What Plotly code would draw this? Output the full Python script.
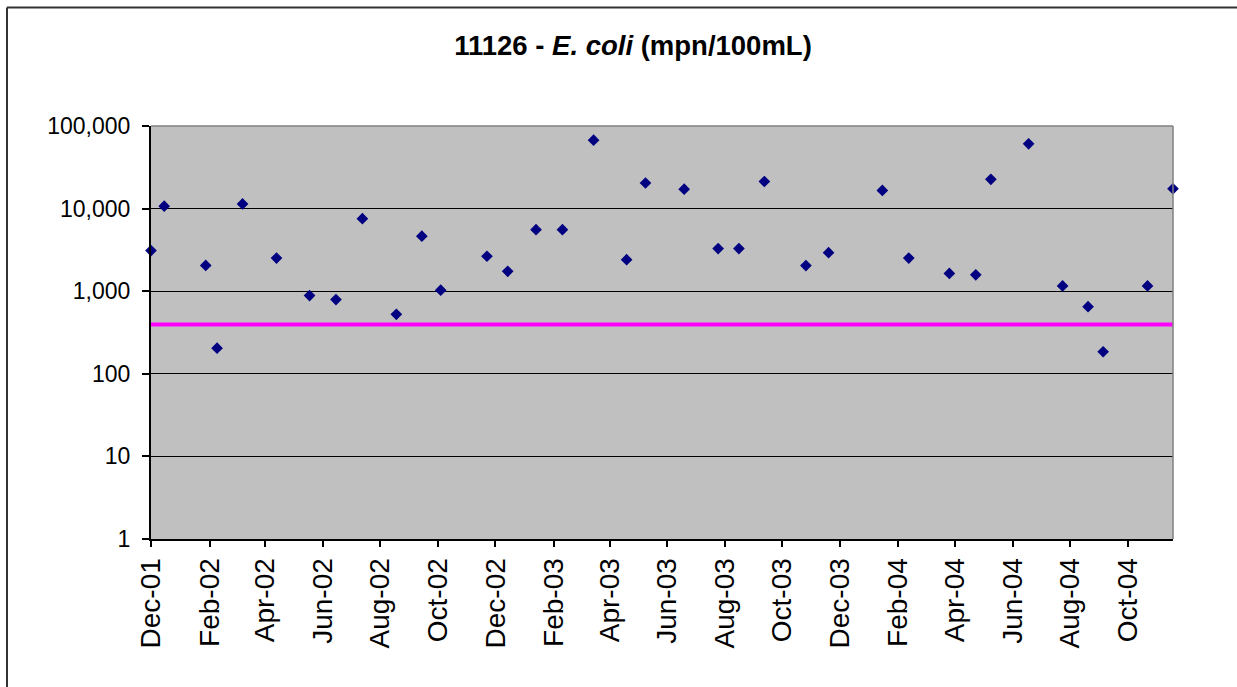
import plotly.graph_objects as go

# ---- data ----
sample_dates = [
    "2001-12-01", "2001-12-15", "2002-01-28", "2002-02-09", "2002-03-08", "2002-04-13",
    "2002-05-18", "2002-06-15", "2002-07-13", "2002-08-18", "2002-09-14", "2002-10-04",
    "2002-11-22", "2002-12-14", "2003-01-13", "2003-02-10", "2003-03-15", "2003-04-19",
    "2003-05-09", "2003-06-19", "2003-07-25", "2003-08-16", "2003-09-12", "2003-10-26",
    "2003-11-19", "2004-01-15", "2004-02-12", "2004-03-26", "2004-04-23", "2004-05-09",
    "2004-06-18", "2004-07-24", "2004-08-20", "2004-09-05", "2004-10-22", "2004-11-18",
]
ecoli_values = [
    3100, 10700, 2050, 204, 11400, 2520,
    886, 792, 7550, 525, 4640, 1030,
    2650, 1740, 5550, 5550, 67400, 2410,
    20400, 17200, 3280, 3280, 21300, 2040,
    2930, 16600, 2520, 1640, 1580, 22600,
    60800, 1160, 650, 185, 1160, 17400,
]
criterion_value = 394
x_range = ["2001-12-01", "2004-11-18"]

x_tick_dates = [
    "2001-12-01", "2002-02-01", "2002-04-01", "2002-06-01", "2002-08-01", "2002-10-01",
    "2002-12-01", "2003-02-01", "2003-04-01", "2003-06-01", "2003-08-01", "2003-10-01",
    "2003-12-01", "2004-02-01", "2004-04-01", "2004-06-01", "2004-08-01", "2004-10-01",
]
x_tick_labels = [
    "Dec-01", "Feb-02", "Apr-02", "Jun-02", "Aug-02", "Oct-02",
    "Dec-02", "Feb-03", "Apr-03", "Jun-03", "Aug-03", "Oct-03",
    "Dec-03", "Feb-04", "Apr-04", "Jun-04", "Aug-04", "Oct-04",
]
y_tick_vals = [1, 10, 100, 1000, 10000, 100000]
y_tick_labels = ["1", "10", "100", "1,000", "10,000", "100,000"]

FONT = "Liberation Sans, Arial, sans-serif"

# plot-area geometry (pixels)
W, H = 1237, 687
L, R, T, B = 151, 1173, 126, 539
pw, ph = R - L, B - T


def px_x(p):
    return (p - L) / pw


def px_y(p):
    return (B - p) / ph


fig = go.Figure()

fig.add_trace(go.Scatter(
    x=x_range, y=[criterion_value, criterion_value],
    mode="lines", line=dict(color="#FF00FF", width=4),
    hoverinfo="skip", showlegend=False,
))

fig.add_trace(go.Scatter(
    x=sample_dates, y=ecoli_values, mode="markers",
    marker=dict(symbol="diamond", size=9, color="#000080", line=dict(width=0)),
    cliponaxis=False, showlegend=False,
))

fig.update_layout(
    width=W, height=H, autosize=False,
    margin=dict(l=L, r=W - R, t=T, b=H - B, pad=0),
    paper_bgcolor="white",
    plot_bgcolor="#C0C0C0",
    font=dict(family=FONT, color="black"),
    title=dict(
        text="<b>11126 - <i>E. coli</i> (mpn/100mL)</b>",
        x=px_x(633), xref="paper", xanchor="center",
        y=1 - 45 / H, yref="container", yanchor="middle",
        font=dict(size=27.5, family=FONT, color="black"),
    ),
    xaxis=dict(
        type="date", range=x_range,
        tickmode="array", tickvals=x_tick_dates, ticktext=x_tick_labels,
        tickangle=-90, tickfont=dict(size=28, family=FONT, color="black"),
        ticks="outside", ticklen=6, tickwidth=1.5, tickcolor="black",
        showgrid=False, zeroline=False,
        showline=True, linecolor="black", linewidth=2,
        ticklabelstandoff=0,
    ),
    yaxis=dict(
        type="log", range=[0, 5],
        tickmode="array", tickvals=y_tick_vals, ticktext=y_tick_labels,
        tickfont=dict(size=23, family=FONT, color="black"),
        ticks="outside", ticklen=7, tickwidth=1.5, tickcolor="black",
        showgrid=True, gridcolor="black", gridwidth=1,
        zeroline=False,
        showline=True, linecolor="black", linewidth=2,
        ticklabelstandoff=7,
    ),
    shapes=[
        # gray top and right plot border
        dict(type="line", xref="paper", yref="paper", x0=0, x1=1, y0=1, y1=1,
             line=dict(color="#808080", width=1.5), layer="above"),
        dict(type="line", xref="paper", yref="paper", x0=1, x1=1, y0=0, y1=1,
             line=dict(color="#808080", width=1.5), layer="above"),
        # outer frame (top and left)
        dict(type="line", xref="paper", yref="paper",
             x0=px_x(7), x1=px_x(W + 5), y0=px_y(7.5), y1=px_y(7.5),
             line=dict(color="#333333", width=2)),
        dict(type="line", xref="paper", yref="paper",
             x0=px_x(7), x1=px_x(7), y0=px_y(7.5), y1=px_y(H + 5),
             line=dict(color="#333333", width=2)),
    ],
)

fig.write_html("out.html")
